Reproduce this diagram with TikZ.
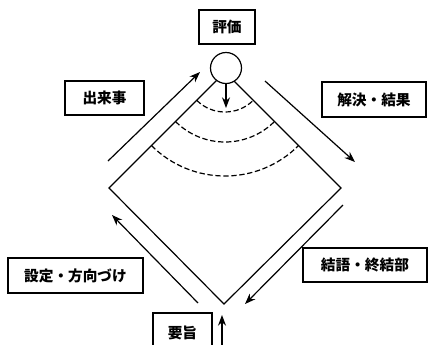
\documentclass[tikz,border=0pt]{standalone}
\usepackage{fontspec}
\newfontfamily\jp{Noto Sans CJK JP}
\usetikzlibrary{calc,arrows.meta}
\begin{document}
\begin{tikzpicture}[x=0.75pt,y=-0.75pt,
  lbl/.style={draw,line width=1pt,inner sep=0pt,font=\jp\bfseries\fontsize{11}{13}\selectfont},
  ln/.style={line width=0.9pt},
  arr/.style={line width=0.9pt,-{Stealth[length=8pt,width=6pt]}},
  dsh/.style={line width=0.9pt,dash pattern=on 4pt off 2pt}]
\clip (0,0) rectangle (430,344);
% diamond
\coordinate (T) at (225,72);
\coordinate (R) at (341,188);
\coordinate (B) at (224,304);
\coordinate (L) at (109,188);
\draw[ln] (T) -- (R) -- (B) -- (L) -- cycle;
% dashed arcs
\draw[dsh] ($(T)+(225:30pt)$) arc[start angle=225,end angle=315,radius=30pt];
\draw[dsh] ($(T)+(225:52.5pt)$) arc[start angle=225,end angle=315,radius=52.5pt];
\draw[dsh] ($(T)+(225:78pt)$) arc[start angle=225,end angle=315,radius=78pt];
% circle
\node[circle,draw,line width=0.9pt,fill=white,minimum size=23.25pt,inner sep=0pt] (c) at (226,68) {};
\coordinate (in) at (226,108);
\draw[arr] (c.south) -- (in);
% boxes
\node[lbl,minimum width=42pt,minimum height=25.5pt] (hyoka) at (227,27) {評価};
\node[lbl,minimum width=59.25pt,minimum height=25.5pt] (dekigoto) at (104.5,98) {出来事};
\node[lbl,minimum width=78pt,minimum height=26.25pt] (kaiketsu) at (374,99.5) {解決・結果};
\node[lbl,minimum width=101.25pt,minimum height=26.25pt] (settei) at (75.5,275.5) {設定・方向づけ};
\node[lbl,minimum width=93pt,minimum height=25.5pt] (ketsugo) at (365,265) {結語・終結部};
\node[lbl,minimum width=44.25pt,minimum height=30pt] (yoshi) at (182.5,333) {要旨};
% outer arrows
\coordinate (a1s) at (108,161);
\coordinate (a1e) at (200,72);
\coordinate (a2s) at (265,81);
\coordinate (a2e) at (355,162);
\coordinate (a3s) at (343,205);
\coordinate (a3e) at (245,304);
\coordinate (a4s) at (198,303);
\coordinate (a4e) at (112,215);
\coordinate (a5s) at (222,350);
\coordinate (a5e) at (222,315);
\draw[arr] (a1s) -- (a1e);
\draw[arr] (a2s) -- (a2e);
\draw[arr] (a3s) -- (a3e);
\draw[arr] (a4s) -- (a4e);
\draw[arr] (a5s) -- (a5e);
\end{tikzpicture}
\end{document}
